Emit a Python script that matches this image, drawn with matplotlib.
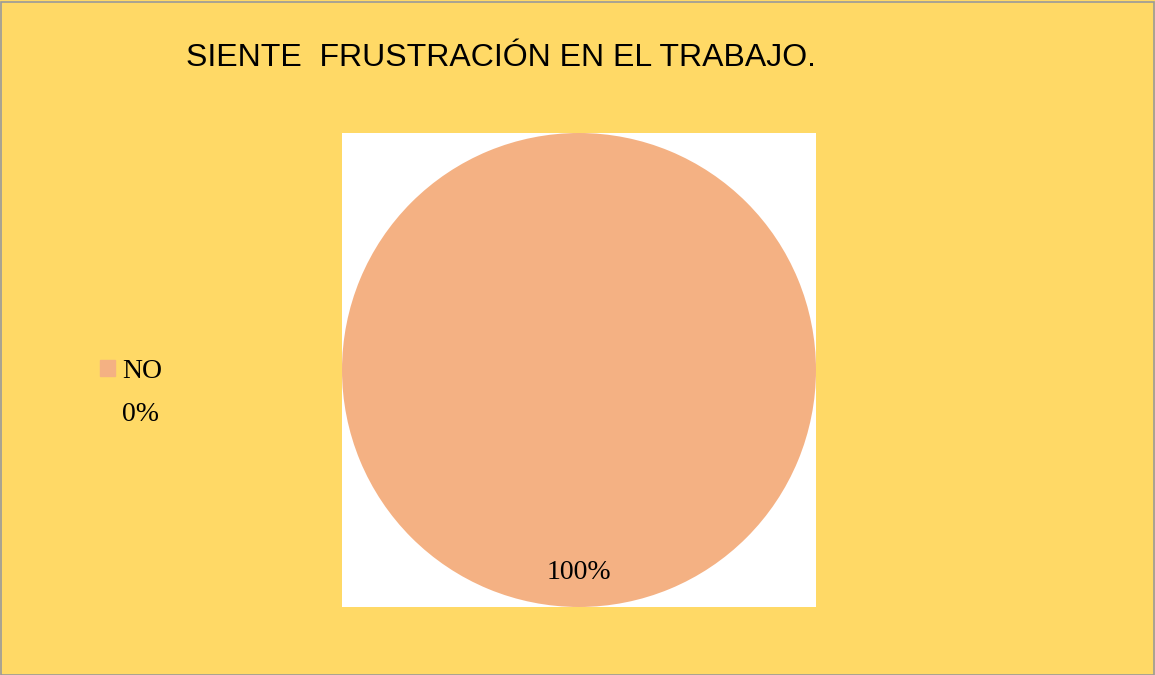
import matplotlib.pyplot as plt
from matplotlib.patches import Patch, Rectangle

# data
categories = ["NO", "SI"]
values = [100, 0]
slice_colors = ["#F4B183", "#9DC3E6"]
title = "SIENTE  FRUSTRACIÓN EN EL TRABAJO."

W, H, dpi = 1155, 675, 100
fig = plt.figure(figsize=(W / dpi, H / dpi), dpi=dpi, facecolor="#FFD966")

# white square plot area holding the pie
ax = fig.add_axes([342 / W, (H - 607) / H, 474 / W, 474 / H])

total = sum(values)
wedges, _, autotexts = ax.pie(
    values, colors=slice_colors, startangle=90, counterclock=False,
    radius=1, pctdistance=0.855,
    autopct=lambda p: f"{p:.0f}%" if p > 0 else "",
    textprops=dict(family="Liberation Serif", fontsize=20, color="black"),
    wedgeprops=dict(linewidth=0),
)
ax.set_xlim(-1, 1)
ax.set_ylim(-1, 1)
ax.set_aspect("equal")
# pie() switches the frame off; put the white background back
ax.set_frame_on(True)
ax.set_facecolor("white")
ax.set_xticks([])
ax.set_yticks([])
for s in ax.spines.values():
    s.set_visible(False)

fig.text(186 / W, 1 - 58 / H, title, family=["Liberation Sans Narrow", "Liberation Sans"],
         fontsize=23, va="center", ha="left")

# legend: visible entry + the 0% label of the empty slice
handles = [Patch(color=slice_colors[0]),
           Patch(color="none")]
labels = [categories[0], f"{values[1] / total * 100:.0f}%"]
fig.legend(handles, labels, loc="center left", bbox_to_anchor=(75 / W, 1 - 393 / H),
           frameon=False, prop=dict(family="Liberation Serif", size=20),
           handlelength=0.55, handleheight=0.55, handletextpad=0.25, labelspacing=0.67)

# thin grey border around the chart
fig.patches.append(Rectangle((0.5 / W, 0.5 / H), 1 - 2 / W, 1 - 2 / H, transform=fig.transFigure,
                             fill=False, edgecolor="#9A9A9A", linewidth=1.2))

fig.savefig("out.png", dpi=dpi, facecolor=fig.get_facecolor())
